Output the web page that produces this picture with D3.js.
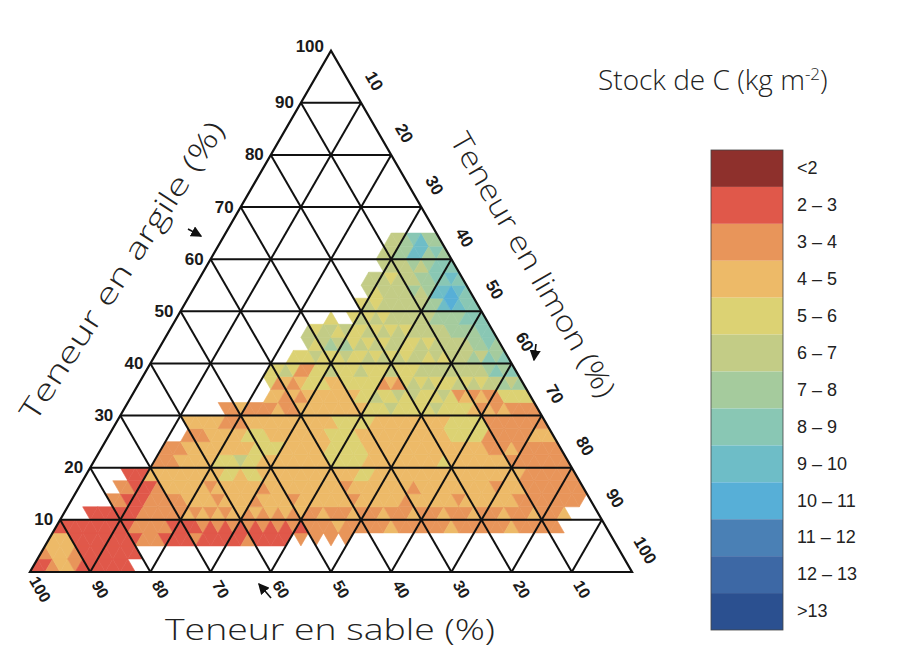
<!DOCTYPE html>
<html>
<head>
<meta charset="utf-8">
<script src="https://cdn.jsdelivr.net/npm/d3@7"></script>
<style>
  body { margin: 0; background: #fff; }
</style>
</head>
<body>
<div id="chart"></div>
<script>
// legend classes (carbon stock, kg m-2)
const classCodes = ["0", "1", "2", "3", "4", "5", "6", "7", "8", "9", "a", "b", "c"];
const classLabels = ["<2", "2 – 3", "3 – 4", "4 – 5", "5 – 6", "6 – 7", "7 – 8", "8 – 9",
  "9 – 10", "10 – 11", "11 – 12", "12 – 13", ">13"];
const classColors = ["#8e302c", "#e0584a", "#e8955a", "#edba68", "#dcd273", "#c3cc86",
  "#a5cb9d", "#89c7b4", "#6ebdc7", "#57afd7", "#4a80b5", "#3d68a5", "#2b5090"];

// grid and tick values (%)
const gridTicks = [10, 20, 30, 40, 50, 60, 70, 80, 90];
const axisTicks = [10, 20, 30, 40, 50, 60, 70, 80, 90, 100];

// heat map cells: clay rows of 2.5 %, each row read left to right
// (first column given by rowStart, "." = no data)
const cellStep = 2.5;
const rowStart = [1, 2, 3, 4, 8, 11, 12, 13, 17, 18, 21, 21, 26, 32, 32, 32, 35, 37, 37, 40, 44, 45, 45, 47, 47, 48];
const rowCodes = [
  "1123321111111",
  "2333211111111",
  "333111111111222" + "11112111111211111" + ".2.2.2.2",
  "1111111111" + "22222" + "1111" + "21212121212121" + "2222322222" + "2322222223" + "2222222322" + "2222",
  "1111111" + "222222" + "3232323323232323" + "2232223222" + "3222322232" + "2232223222" + "32223",
  "22" + "111" + "22222" + "3333233332" + "3333233333" + "3323333332" + "3333332333" + "3333" + "222222222",
  "22" + "111" + "2333333233" + "3333233333" + "3333323333" + "3333233333" + "333332333" + "22222222",
  "111" + "3333333333" + "44344" + "3333333333" + "3334433333" + "3333333333" + "33333" + "2222222",
  "222" + "33333" + "444544" + "333333333" + "44444" + "3333333333433333333" + "22222222",
  "222" + "333333333" + "4444" + "333333" + "44444" + "3333333333333333" + "2223222222",
  "222" + "33333" + "444" + "33333333" + "4444" + "333333333333" + "44444" + "222222" + "333",
  "33333" + "222" + "333333333333" + "44444" + "3333333333" + "44444" + "22222222",
  "2232222322" + "333333333" + "44454444454444" + "323232" + "222",
  "332323333" + "333" + "4454454544454" + "232322" + "4444",
  "4" + "2323" + "444" + "33" + "44444" + "232" + "45454445454" + "55656",
  "4454" + "22" + "445444544454445" + "55555555" + "6767",
  "4445444544" + "54545455454" + "55565" + "767",
  "545" + "656" + "454545544545" + "5555" + "6676",
  "5455454" + "45454545" + "5555" + "6666" + "77",
  "4" + ".." + "454545" + "55555" + "6666" + "777",
  "45455" + "5555" + "66" + "898" + "77",
  "545555" + "656" + "88987",
  "5554555" + "66" + "77" + "87",
  "5555" + "656" + "777",
  "55" + "66" + "88" + "676",
  "55" + "6" + "78" + "66"
];

const WIDTH = 918, HEIGHT = 651;

const svg = d3.select("#chart").append("svg")
  .attr("width", WIDTH)
  .attr("height", HEIGHT);

// ternary projection: horizontal position = silt + clay / 2, vertical = clay
const x = d3.scaleLinear().domain([0, 100]).range([30, 632]);
const y = d3.scaleLinear().domain([0, 100]).range([572, 50.6]);
const project = (clay, silt) => [x(silt + clay / 2), y(clay)];

const color = d3.scaleOrdinal().domain(classCodes).range(classColors);
const line = d3.line();

// build the cells
const cells = [];
rowCodes.forEach((codes, a) => {
  const nCols = 79 - 2 * a;
  codes.split("").forEach((c, i) => {
    if (c === ".") return;
    const k = rowStart[a] + i - a - 1;
    if (k < 0 || k >= nCols) return;
    const c0 = a * cellStep, c1 = (a + 1) * cellStep;
    let pts;
    if (k % 2 === 0) {
      const b = k / 2;
      pts = [[c0, b * cellStep], [c0, (b + 1) * cellStep], [c1, b * cellStep]];
    } else {
      const b = (k - 1) / 2;
      pts = [[c0, (b + 1) * cellStep], [c1, (b + 1) * cellStep], [c1, b * cellStep]];
    }
    cells.push({ code: c, pts: pts.map(p => project(p[0], p[1])) });
  });
});

svg.append("g").selectAll("path")
  .data(cells)
  .enter().append("path")
  .attr("d", d => line(d.pts) + "Z")
  .attr("fill", d => color(d.code))
  .attr("stroke", d => color(d.code))
  .attr("stroke-width", 0.6);

// grid lines
const grid = svg.append("g")
  .attr("stroke", "#111")
  .attr("stroke-width", 2)
  .attr("fill", "none");

gridTicks.forEach(t => {
  // constant clay
  grid.append("path").attr("d", line([project(t, 0), project(t, 100 - t)]));
  // constant silt
  grid.append("path").attr("d", line([project(0, t), project(100 - t, t)]));
  // constant sand
  grid.append("path").attr("d", line([project(0, 100 - t), project(100 - t, 0)]));
});

grid.append("path")
  .attr("d", line([project(0, 0), project(0, 100), project(100, 0)]) + "Z")
  .attr("stroke-width", 2.2);

// tick labels
const tickFont = "'Liberation Sans', Arial, sans-serif";

svg.append("g").selectAll("text")
  .data(axisTicks)
  .enter().append("text")
  .attr("x", d => project(d, 0)[0] - 7)
  .attr("y", d => project(d, 0)[1] + (d === 100 ? -3 : 1))
  .attr("text-anchor", "end")
  .attr("dominant-baseline", "middle")
  .attr("font-family", tickFont)
  .attr("font-size", 17)
  .attr("font-weight", "bold")
  .attr("fill", "#1a1a1a")
  .text(d => d);

svg.append("g").selectAll("text")
  .data(axisTicks)
  .enter().append("text")
  .attr("transform", d => {
    const p = project(0, 100 - d);
    return `translate(${p[0] + 9},${p[1] + 18}) rotate(60)`;
  })
  .attr("text-anchor", "middle")
  .attr("dominant-baseline", "middle")
  .attr("font-family", tickFont)
  .attr("font-size", 16)
  .attr("font-weight", "bold")
  .attr("fill", "#1a1a1a")
  .text(d => d);

svg.append("g").selectAll("text")
  .data(axisTicks)
  .enter().append("text")
  .attr("transform", d => {
    const p = project(100 - d, d);
    return `translate(${p[0] + 12},${p[1] - 21}) rotate(60)`;
  })
  .attr("text-anchor", "middle")
  .attr("dominant-baseline", "middle")
  .attr("font-family", tickFont)
  .attr("font-size", 17)
  .attr("font-weight", "bold")
  .attr("fill", "#1a1a1a")
  .text(d => d);

// direction arrows
svg.append("defs").append("marker")
  .attr("id", "head")
  .attr("viewBox", "0 0 8 8")
  .attr("refX", 7).attr("refY", 4)
  .attr("markerWidth", 7).attr("markerHeight", 7)
  .attr("orient", "auto")
  .append("path").attr("d", "M0,0L8,4L0,8Z").attr("fill", "#111");

const arrows = [
  [[188, 229], [201, 236]],
  [[536, 344], [534, 360]],
  [[271, 598], [259, 584]]
];
svg.append("g").selectAll("path")
  .data(arrows)
  .enter().append("path")
  .attr("d", d => line(d))
  .attr("stroke", "#111")
  .attr("stroke-width", 1.6)
  .attr("marker-end", "url(#head)");

// axis titles
const handFont = "'Open Sans', 'DejaVu Sans', sans-serif";

svg.append("text")
  .attr("transform", "translate(124,272) rotate(-57)")
  .attr("text-anchor", "middle")
  .attr("dominant-baseline", "middle")
  .attr("font-family", handFont)
  .attr("font-weight", 300)
  .attr("font-size", 29)
  .attr("fill", "#222")
  .attr("textLength", 350)
  .attr("lengthAdjust", "spacingAndGlyphs")
  .text("Teneur en argile (%)");

svg.append("text")
  .attr("transform", "translate(531,266) rotate(60)")
  .attr("text-anchor", "middle")
  .attr("dominant-baseline", "middle")
  .attr("font-family", handFont)
  .attr("font-weight", 300)
  .attr("font-size", 29)
  .attr("fill", "#222")
  .attr("textLength", 300)
  .attr("lengthAdjust", "spacingAndGlyphs")
  .text("Teneur en limon (%)");

svg.append("text")
  .attr("x", 330)
  .attr("y", 640)
  .attr("text-anchor", "middle")
  .attr("font-family", handFont)
  .attr("font-weight", 300)
  .attr("font-size", 29)
  .attr("fill", "#222")
  .attr("textLength", 330)
  .attr("lengthAdjust", "spacingAndGlyphs")
  .text("Teneur en sable (%)");

// legend
const title = svg.append("text")
  .attr("x", 598)
  .attr("y", 90)
  .attr("font-family", handFont)
  .attr("font-weight", 300)
  .attr("font-size", 28)
  .attr("fill", "#222");
title.append("tspan").text("Stock de C (kg m");
title.append("tspan").attr("dy", -10).attr("font-size", 17).text("-2");
title.append("tspan").attr("dy", 10).text(")");

const legendY = d3.scaleBand()
  .domain(classCodes)
  .range([150, 630]);

const legend = svg.append("g");

legend.selectAll("rect")
  .data(classCodes)
  .enter().append("rect")
  .attr("x", 711)
  .attr("y", d => legendY(d))
  .attr("width", 72)
  .attr("height", legendY.bandwidth())
  .attr("fill", d => color(d));

legend.append("rect")
  .attr("x", 711).attr("y", 150)
  .attr("width", 72).attr("height", 480)
  .attr("fill", "none")
  .attr("stroke", "#444")
  .attr("stroke-width", 0.8);

legend.selectAll("text")
  .data(classCodes)
  .enter().append("text")
  .attr("x", 797)
  .attr("y", d => legendY(d) + legendY.bandwidth() / 2 + 1)
  .attr("dominant-baseline", "middle")
  .attr("font-family", tickFont)
  .attr("font-size", 18)
  .attr("fill", "#222")
  .text((d, i) => classLabels[i]);
</script>
</body>
</html>
